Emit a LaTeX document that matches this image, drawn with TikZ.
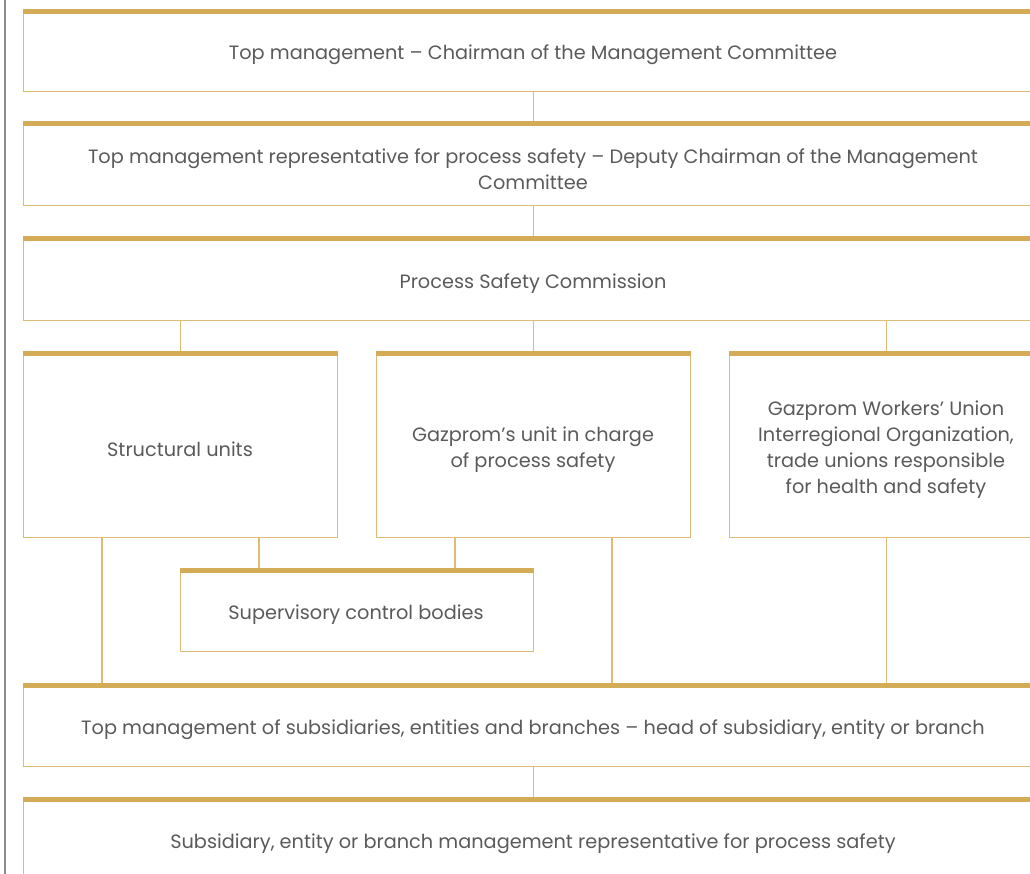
\documentclass[tikz,border=0pt]{standalone}
\usepackage{fontspec}
\setmainfont{Poppins}
\definecolor{goldbar}{HTML}{D4AB56}
\definecolor{goldln}{HTML}{DFBC74}
\definecolor{txt}{HTML}{5A5A5A}
\definecolor{edge}{HTML}{8A8A8A}
\tikzset{
  gbox/.style={draw=goldln, line width=1.3pt, rectangle, inner sep=0pt, anchor=north west},
  gtxt/.style={inner sep=0pt, align=center, text=txt, yshift=-2.5pt, font=\fontsize{19.3}{26}\selectfont},
  gbar/.style={draw=goldbar, line width=5pt},
  conn/.style={draw=goldln, line width=1.3pt},
}
\newcommand{\gbox}[6]{%
  \node[gbox, minimum width=#4pt-#2pt, minimum height=#5pt-#3pt] (#1) at (#2,#3) {};
  \draw[gbar] ([yshift=-2.5pt]#1.north west) -- ([yshift=-2.5pt]#1.north east);
}
\begin{document}
\begin{tikzpicture}[x=1pt,y=-1pt]
\useasboundingbox (0,0) rectangle (1030,874);
\clip (0,0) rectangle (1030,874);
\draw[edge, line width=2pt] (4.5,0) -- (4.5,874);
\gbox{b1}{23}{9}{1043}{91}{}
\gbox{b2}{23}{121}{1043}{205}{}
\gbox{b3}{23}{236}{1043}{320}{}
\gbox{ba}{23}{351}{337}{537}{}
\gbox{bb}{376}{351}{690}{537}{}
\gbox{bc}{729}{351}{1043}{537}{}
\gbox{bs}{180}{568}{533}{651}{}
\gbox{b4}{23}{683}{1043}{766}{}
\gbox{b5}{23}{797}{1043}{885}{}
\node[gtxt] (t1) at (533,52) {Top management – Chairman of the Management Committee};
\node[gtxt] (t2) at (533,167) {Top management representative for process safety – Deputy Chairman of the Management\\Committee};
\node[gtxt] (t3) at (533,281) {Process Safety Commission};
\node[gtxt] (ta) at (180,447) {Structural units};
\node[gtxt] (tb) at (533,447) {Gazprom’s unit in charge\\of process safety};
\node[gtxt] (tc) at (886,447) {Gazprom Workers’ Union\\Interregional Organization,\\trade unions responsible\\for health and safety};
\node[gtxt] (ts) at (356,612) {Supervisory control bodies};
\node[gtxt] (t4) at (533,727) {Top management of subsidiaries, entities and branches – head of subsidiary, entity or branch};
\node[gtxt] (t5) at (533,841) {Subsidiary, entity or branch management representative for process safety};
\coordinate (xa) at (102,0);
\coordinate (xb) at (259,0);
\coordinate (xc) at (455,0);
\coordinate (xd) at (612,0);
\draw[conn] (b1.south) -- (b2.north);
\draw[conn] (b2.south) -- (b3.north);
\draw[conn] (ba.north) -- (ba.north |- b3.south);
\draw[conn] (bb.north) -- (bb.north |- b3.south);
\draw[conn] (bc.north) -- (bc.north |- b3.south);
\draw[conn] (ba.south -| xa) -- (b4.north -| xa);
\draw[conn] (ba.south -| xb) -- (bs.north -| xb);
\draw[conn] (bb.south -| xc) -- (bs.north -| xc);
\draw[conn] (bb.south -| xd) -- (b4.north -| xd);
\draw[conn] (bc.south) -- (bc.south |- b4.north);
\draw[conn] (b4.south) -- (b5.north);
\end{tikzpicture}
\end{document}
